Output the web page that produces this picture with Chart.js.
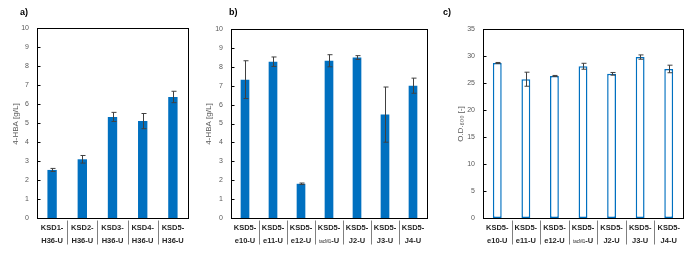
<!DOCTYPE html>
<html>
<head>
<meta charset="utf-8">
<script src="https://cdn.jsdelivr.net/npm/chart.js@4"></script>
<style>
  body { margin: 0; background: #fff; }
  #wrap { position: relative; width: 695px; height: 254px; }
  canvas { position: absolute; top: 0; }
</style>
</head>
<body>
<div id="wrap">
  <canvas id="chartA" width="200" height="254" style="left:0px"></canvas>
  <canvas id="chartB" width="245" height="254" style="left:195px"></canvas>
  <canvas id="chartC" width="255" height="254" style="left:440px"></canvas>
</div>
<script>
// panel a
const labelsA = [['KSD1-', 'H36-U'], ['KSD2-', 'H36-U'], ['KSD3-', 'H36-U'], ['KSD4-', 'H36-U'], ['KSD5-', 'H36-U']];
const hbaA = [2.53, 3.09, 5.32, 5.1, 6.37];
const errA = [0.08, 0.2, 0.24, 0.4, 0.3];

// panels b and c share the strains
const labelsBC = [['KSD5-', 'e10-U'], ['KSD5-', 'e11-U'], ['KSD5-', 'e12-U'], ['KSD5-', 'tacM1-U'], ['KSD5-', 'J2-U'], ['KSD5-', 'J3-U'], ['KSD5-', 'J4-U']];
const hbaB = [7.32, 8.27, 1.81, 8.32, 8.49, 5.47, 7.0];
const errB = [1.0, 0.25, 0.04, 0.32, 0.1, 1.46, 0.4];
const odC = [28.7, 25.7, 26.3, 28.1, 26.7, 29.8, 27.6];
const errC = [0.1, 1.3, 0.1, 0.55, 0.25, 0.4, 0.7];

const ticksA = [0, 1, 2, 3, 4, 5, 6, 7, 8, 9, 10];
const ticksC = [0, 5, 10, 15, 20, 25, 30, 35];

const blue = '#0070c0';

const decorPlugin = {
  id: 'decor',
  afterDatasetsDraw(chart) {
    const o = chart.options.plugins.decor;
    const ctx = chart.ctx;
    const area = chart.chartArea;
    const x = chart.scales.x;
    const y = chart.scales.y;
    const vals = chart.data.datasets[0].data;
    ctx.save();

    // error bars
    ctx.strokeStyle = '#404040';
    ctx.lineWidth = 1;
    vals.forEach((v, i) => {
      const px = Math.round(x.getPixelForValue(i)) + 0.5;
      const top = y.getPixelForValue(v + o.err[i]);
      const bot = y.getPixelForValue(v - o.err[i]);
      ctx.beginPath();
      ctx.moveTo(px, top); ctx.lineTo(px, bot);
      ctx.moveTo(px - 2, top); ctx.lineTo(px + 3, top);
      ctx.moveTo(px - 2, bot); ctx.lineTo(px + 3, bot);
      ctx.stroke();
    });

    // frame and inner ticks
    ctx.strokeStyle = '#000';
    ctx.lineWidth = 1;
    const l = Math.round(area.left) + 0.5, r = Math.round(area.right) + 0.5;
    const t = Math.round(area.top) + 0.5, b = Math.round(area.bottom) + 0.5;
    ctx.strokeRect(l, t, r - l, b - t);
    ctx.beginPath();
    y.ticks.forEach(tk => {
      const py = Math.round(y.getPixelForValue(tk.value)) + 0.5;
      ctx.moveTo(l, py); ctx.lineTo(l + 3, py);
    });
    ctx.stroke();

    // category labels and separators
    const n = vals.length;
    const step = (area.right - area.left) / n;
    ctx.strokeStyle = '#7f7f7f';
    ctx.beginPath();
    for (let i = 1; i < n; i++) {
      const sx = Math.round(area.left + step * i) + 0.5;
      ctx.moveTo(sx, b + 2); ctx.lineTo(sx, b + 26);
    }
    ctx.stroke();
    ctx.fillStyle = '#262626';
    ctx.textBaseline = 'middle';
    chart.data.labels.forEach((lab, i) => {
      const cx = x.getPixelForValue(i);
      ctx.font = 'bold 7.5px "Liberation Sans"';
      ctx.textAlign = 'center';
      ctx.fillText(lab[0], cx, b + 9);
      if (lab[1] === 'tacM1-U') {
        ctx.font = 'bold 7.5px "Liberation Sans"';
        const wU = ctx.measureText('-U').width;
        ctx.font = '4.5px "Liberation Sans"';
        const wS = ctx.measureText('tacM1').width;
        const start = cx - (wU + wS) / 2;
        ctx.textAlign = 'left';
        ctx.fillText('tacM1', start, b + 23);
        ctx.font = 'bold 7.5px "Liberation Sans"';
        ctx.fillText('-U', start + wS, b + 22);
      } else {
        ctx.fillText(lab[1], cx, b + 22);
      }
    });

    // axis title
    ctx.save();
    ctx.translate(o.titleX, o.titleY);
    ctx.rotate(-Math.PI / 2);
    ctx.fillStyle = '#595959';
    ctx.font = '8px "Liberation Sans"';
    ctx.textAlign = 'center';
    ctx.fillText(o.title, 0, 0);
    ctx.restore();

    // panel letter
    ctx.fillStyle = '#000';
    ctx.font = 'bold 9px "Liberation Sans"';
    ctx.textAlign = 'left';
    ctx.fillText(o.letter, o.letterX, 13);
    ctx.restore();
  }
};

function makeChart(id, labels, values, errs, opt) {
  return new Chart(document.getElementById(id), {
    type: 'bar',
    data: {
      labels: labels,
      datasets: [{
        data: values,
        backgroundColor: opt.fill,
        borderColor: blue,
        borderWidth: opt.border,
        borderSkipped: false,
        barPercentage: 0.31,
        categoryPercentage: 1.0
      }]
    },
    options: {
      responsive: false,
      animation: false,
      layout: { padding: { top: opt.top, right: opt.right, left: 0, bottom: 0 } },
      plugins: {
        legend: { display: false },
        tooltip: { enabled: false },
        decor: { err: errs, title: opt.title, titleX: opt.titleX, titleY: 124, letter: opt.letter, letterX: opt.letterX }
      },
      scales: {
        x: {
          ticks: { display: false },
          grid: { display: false, drawTicks: false },
          border: { display: false },
          afterFit(s) { s.height = 36; }
        },
        y: {
          min: 0,
          max: opt.max,
          afterBuildTicks(s) { s.ticks = opt.ticks.map(v => ({ value: v })); },
          ticks: { color: '#595959', font: { size: 7, family: 'Liberation Sans' }, padding: 8 },
          grid: { display: false, drawTicks: false },
          border: { display: false },
          afterFit(s) { s.width = opt.yw; }
        }
      }
    },
    plugins: [decorPlugin]
  });
}

makeChart('chartA', labelsA, hbaA, errA, {
  fill: blue, border: 0, top: 28, right: 12, yw: 37, max: 10, ticks: ticksA,
  title: '4-HBA [g/L]', titleX: 16, letter: 'a)', letterX: 20
});
makeChart('chartB', labelsBC, hbaB, errB, {
  fill: blue, border: 0, top: 29, right: 13, yw: 36, max: 10, ticks: ticksA,
  title: '4-HBA [g/L]', titleX: 14, letter: 'b)', letterX: 34
});
makeChart('chartC', labelsBC, odC, errC, {
  fill: '#ffffff', border: 1.5, top: 29, right: 12, yw: 43, max: 35, ticks: ticksC,
  title: 'O.D.₆₀₀ [-]', titleX: 21, letter: 'c)', letterX: 3
});
</script>
</body>
</html>
